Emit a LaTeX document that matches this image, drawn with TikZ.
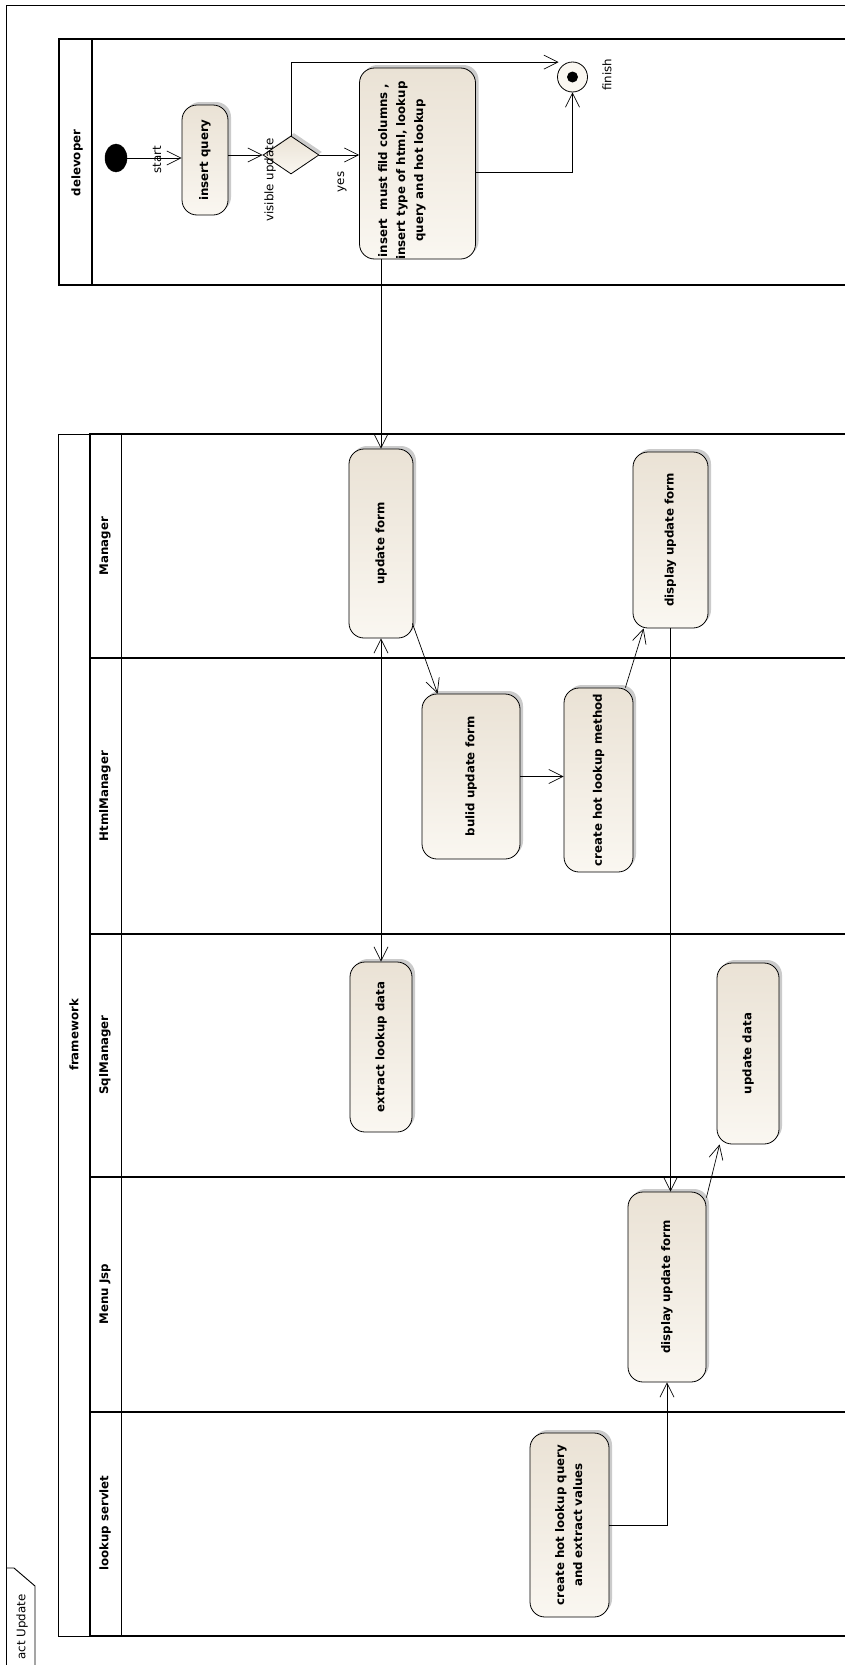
\documentclass[tikz,border=0pt]{standalone}
\usepackage{fontspec}
\usepackage{graphicx}
\setmainfont{DejaVu Sans}
\usetikzlibrary{shapes.geometric,arrows.meta,shadows,calc}
\definecolor{nodefillA}{RGB}{234,226,213}
\definecolor{nodefillB}{RGB}{250,247,241}
\newcommand{\rottext}[1]{\rotatebox{90}{#1}}
\tikzset{
  actbox/.style={draw, line width=0.8pt, rounded corners=15pt, top color=nodefillA, bottom color=nodefillB,
    inner sep=0pt, font=\fontsize{11.8}{18}\selectfont\bfseries,
    drop shadow={shadow xshift=3pt, shadow yshift=3pt, fill=black!45, opacity=0.45}},
  lbl/.style={font=\fontsize{11.8}{14}\selectfont, inner sep=0pt},
  blbl/.style={font=\fontsize{11.8}{14}\selectfont\bfseries, inner sep=0pt},
  arr/.style={line width=0.7pt, -{Straight Barb[length=14pt,width=14pt]}},
  darr/.style={line width=0.7pt, {Straight Barb[length=14pt,width=14pt]}-{Straight Barb[length=14pt,width=14pt]}},
  thinframe/.style={line width=0.9pt},
  thickframe/.style={line width=2pt},
}
\begin{document}
\begin{tikzpicture}[x=1pt,y=-1pt]
\useasboundingbox (0,0) rectangle (845,1665);
\clip (0,0) rectangle (845,1665);
\fill[white] (0,0) rectangle (845,1665);

% outer frame and tab
\draw[thinframe] (6.5,1700) -- (6.5,5.7) -- (900,5.7);
\draw[thinframe] (6.5,1568) -- (14,1568) -- (35,1586) -- (35,1700);
\node[lbl, rotate=90] (tabtxt) at (22,1627) {act Update};

% developer partition
\draw[line width=1.2pt] (900,39) -- (59,39) -- (59,285) -- (900,285);
\draw[line width=1.2pt] (92,39) -- (92,285);
\node[blbl, rotate=90] (devlabel) at (77,163) {delevoper};

% framework partition
\draw[thinframe] (90,434) -- (58,434) -- (58,1636) -- (90,1636);
\draw[thickframe] (900,434) -- (90,434) -- (90,1636) -- (900,1636);
\draw[thinframe] (121,434) -- (121,1636);
\foreach \yy in {658,934,1177,1412} {\draw[thickframe] (90,\yy) -- (900,\yy);}
\node[lbl, rotate=90] (fwlabel) at (74,1035) {\bfseries framework};
\node[blbl, rotate=90] (l1) at (105,546) {Manager};
\node[blbl, rotate=90] (l2) at (105,796) {HtmlManager};
\node[blbl, rotate=90] (l3) at (105,1055) {SqlManager};
\node[blbl, rotate=90] (l4) at (105,1294) {Menu Jsp};
\node[blbl, rotate=90] (l5) at (105,1523) {lookup servlet};

% developer nodes
\node[draw, fill=black, ellipse, minimum width=22pt, minimum height=28pt, inner sep=0pt] (start) at (116,158) {};
\node[lbl, rotate=90] (startlbl) at (157,160) {start};
\node[actbox, minimum width=46pt, minimum height=110pt] (iq) at (205,160) {\rottext{insert query}};
\node[diamond, draw, line width=0.8pt, top color=nodefillA, bottom color=nodefillB, aspect=1.47,
      minimum width=56pt, minimum height=38pt, inner sep=0pt,
      drop shadow={shadow xshift=3pt, shadow yshift=3pt, fill=black!45, opacity=0.45}] (dia) at (291,155) {};
\node[lbl, rotate=90] (vislbl) at (270,180) {visible update};
\node[actbox, minimum width=116pt, minimum height=191pt,
      label={[name=bigtxt, xshift=-16pt, yshift=-7pt, font=\fontsize{11.8}{18}\selectfont\bfseries]center:\rottext{\begin{tabular}{@{}c@{}}insert\ \ must fild columns ,\\insert type of html, lookup\\query and hot lookup\end{tabular}}}] (big) at (417.5,163.5) {};
\node[lbl, rotate=90] (yeslbl) at (342,182) {yes};
\node[circle, draw, line width=0.8pt, fill=nodefillB, minimum size=30pt, inner sep=0pt] (fin) at (572.5,77) {};
\fill (fin.center) circle (5.5pt);
\node[lbl, rotate=90] (finlbl) at (607,75) {finish};

% framework nodes
\node[actbox, minimum width=64pt, minimum height=189pt] (uf) at (381,543.5) {\rottext{update form}};
\node[actbox, minimum width=75pt, minimum height=176pt] (dm) at (670.5,540) {\rottext{display update form}};
\node[actbox, minimum width=98pt, minimum height=165pt] (bu) at (471,776.5) {\rottext{bulid update form}};
\node[actbox, minimum width=69pt, minimum height=184pt] (ch) at (598.5,780) {\rottext{create hot lookup method}};
\node[actbox, minimum width=62pt, minimum height=170pt] (ex) at (381,1047) {\rottext{extract lookup data}};
\node[actbox, minimum width=62pt, minimum height=181pt] (ud) at (748,1053.5) {\rottext{update data}};
\node[actbox, minimum width=78pt, minimum height=190pt] (dj) at (667,1287) {\rottext{display update form}};
\node[actbox, minimum width=79pt, minimum height=184pt] (cq) at (569.5,1525) {\rottext{\begin{tabular}{@{}c@{}}create hot lookup query\\and extract values\end{tabular}}};

% connectors
\draw[arr] (start.east) -- (start.east -| iq.west);
\draw[arr] (iq.east |- dia.west) -- (dia.west);
\draw[arr] (dia.east) -- (dia.east -| big.west);
\draw[arr] (dia.north) |- ($(fin.north west)+(-3,-4)$);
\draw[arr] ($(big.east)+(0,8.5)$) -| (fin.south);
\draw[arr] (big.south -| uf.north) -- (uf.north);
\draw[darr] (uf.south) -- (ex.north);
\draw[arr] ($(uf.south east)+(-1,-15)$) -- ($(bu.north west)+(16,0)$);
\draw[arr] (bu.east) -- (bu.east -| ch.west);
\draw[arr] ($(ch.north east)+(-8,0)$) -- ($(dm.south west)+(11,0)$);
\draw[arr] (dm.south) -- (dm.south |- dj.north);
\draw[arr] ($(dj.north east)+(0,6)$) -- ($(ud.south west)+(3,0)$);
\draw[arr] (cq.east) -| (dj.south);
\end{tikzpicture}
\end{document}
